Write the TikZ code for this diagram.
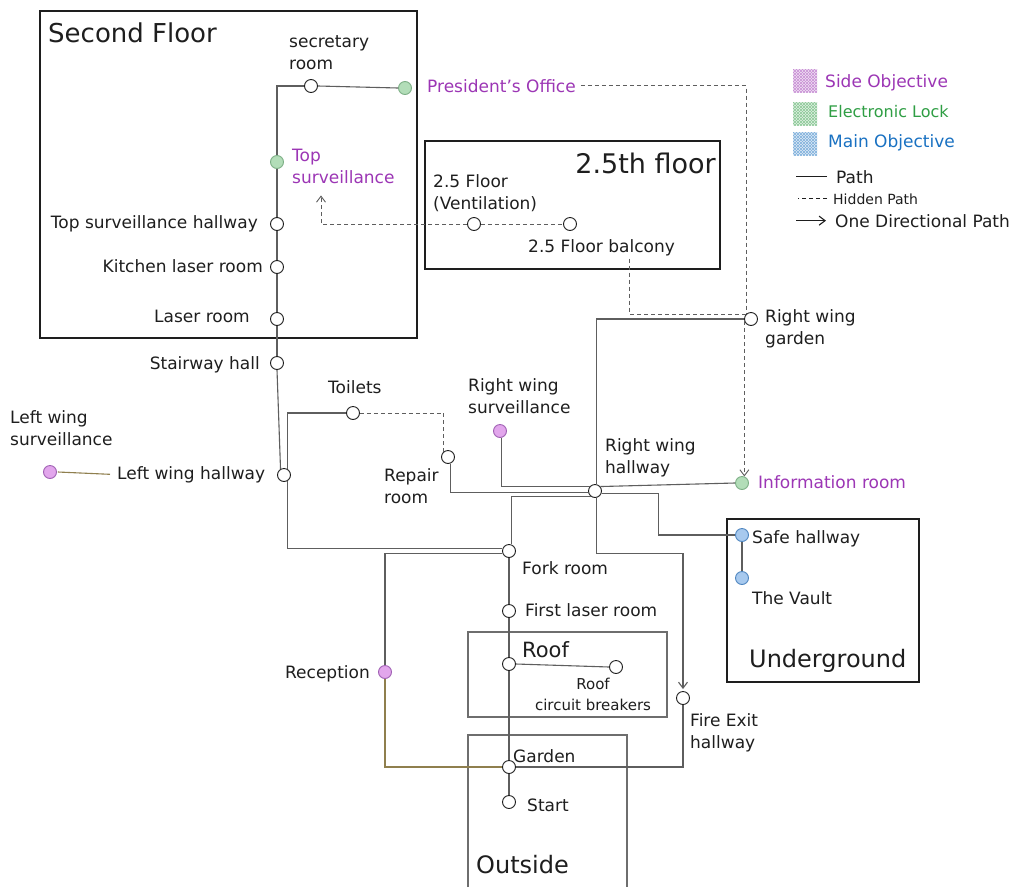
\documentclass[tikz,border=0pt]{standalone}
\usepackage{fontspec}
\setmainfont{DejaVu Sans}
\usetikzlibrary{arrows.meta,calc,patterns}

% palette
\definecolor{ink}{HTML}{1E1E1E}
\definecolor{wire}{HTML}{5E5E5E}
\definecolor{olivewire}{HTML}{8F7F4E}
\definecolor{boxgray}{HTML}{6E6E6E}
\definecolor{sidetxt}{HTML}{9C36B5}
\definecolor{locktxt}{HTML}{2F9E44}
\definecolor{maintxt}{HTML}{1971C2}
\definecolor{sidefill}{HTML}{E2A6EC}
\definecolor{lockfill}{HTML}{B2DDB8}
\definecolor{mainfill}{HTML}{A7C9EE}
\definecolor{sideedge}{HTML}{A061B4}
\definecolor{lockedge}{HTML}{7DAF86}
\definecolor{mainedge}{HTML}{4F86C0}

\newcommand{\mapLabelFont}{\fontsize{17}{22}\selectfont}
\newcommand{\mapSmallFont}{\fontsize{15}{21}\selectfont}
\newcommand{\mapRoofFont}{\fontsize{21}{25}\selectfont}

\begin{document}
\begin{tikzpicture}[
  x=1pt, y=-1pt,
  room/.style={circle, draw=ink, fill=white, line width=0.9pt, minimum size=13pt, inner sep=0pt},
  side/.style={room, draw=sideedge, fill=sidefill},
  lock/.style={room, draw=lockedge, fill=lockfill},
  goal/.style={room, draw=mainedge, fill=mainfill},
  lbl/.style={inner sep=0pt, font=\mapLabelFont, text=ink, align=left},
  ttl/.style={inner sep=0pt, text=ink},
  floorbox/.style={draw=ink, line width=1.8pt},
  zonebox/.style={draw=boxgray, line width=1.8pt},
  link/.style={draw=wire, line width=1.1pt},
  wildpath/.style={draw=olivewire, line width=1.1pt},
  hidden/.style={draw=wire, line width=0.9pt, dash pattern=on 4pt off 3pt},
  oneway/.style={-{Straight Barb[length=6pt,width=9pt]}},
]
\fill[white] (0,0) rectangle (1026,887);
\useasboundingbox (0,0) rectangle (1026,887);

% ---------- floor frames ----------
\draw[floorbox] (40,11) rectangle (417,338);
\draw[floorbox] (425,141) rectangle (720,269);
\draw[floorbox] (727,519) rectangle (919,682);
\draw[zonebox] (468,632) rectangle (667,717);
\draw[zonebox] (468,887) -- (468,735) -- (627,735) -- (627,887);

\node[ttl, anchor=base west, font=\fontsize{26}{30}\selectfont] (t2) at (48,42) {Second Floor};
\node[ttl, anchor=base east, font=\fontsize{27}{30}\selectfont] (t25) at (716,173) {2.5th floor};
\node[ttl, anchor=base west, font=\fontsize{24}{30}\selectfont] (tug) at (749,667) {Underground};
\node[ttl, anchor=base west, font=\fontsize{24}{30}\selectfont] (tout) at (476,873) {Outside};
\node[ttl, anchor=base west, font=\mapRoofFont] (troof) at (522,657) {Roof};

% ---------- rooms ----------
\node[room] (sec) at (311,86) {};
\node[lock] (pres) at (405,88) {};
\node[lock] (tsv) at (277,162) {};
\node[room] (tsh) at (277,224) {};
\node[room] (klr) at (277,267) {};
\node[room] (lsr) at (277,319) {};
\node[room] (sth) at (277,363) {};
\node[room] (lwh) at (284,475) {};
\node[side] (lws) at (50,472) {};
\node[room] (toi) at (353,413) {};
\node[room] (rep) at (448,457) {};
\node[side] (rws) at (500,431) {};
\node[room] (rwh) at (595,491) {};
\node[lock] (inf) at (742,483) {};
\node[room] (rwg) at (751,319) {};
\node[room] (vent) at (474,224) {};
\node[room] (balc) at (570,224) {};
\node[goal] (safe) at (742,535) {};
\node[goal] (vault) at (742,578) {};
\node[room] (fork) at (509,551) {};
\node[room] (flr) at (509,611) {};
\node[room] (roof) at (509,664) {};
\node[room] (rcb) at (616,667) {};
\node[side] (rec) at (385,672) {};
\node[room] (fex) at (683,698) {};
\node[room] (gar) at (509,767) {};
\node[room] (start) at (509,802) {};

% ---------- room names (multi-line names sit on their last baseline) ----------
\node[lbl, anchor=base west] (seclbl) at (289,69) {secretary\\room};
\node[lbl, anchor=base west, text=sidetxt] (preslbl) at (427,92) {President's Office};
\node[lbl, anchor=base west, text=sidetxt] (tsvlbl) at (292,183) {Top\\surveillance};
\node[lbl, anchor=base east] (tshlbl) at (258,228) {Top surveillance hallway};
\node[lbl, anchor=base east] (klrlbl) at (263,272) {Kitchen laser room};
\node[lbl, anchor=base east] (lsrlbl) at (250,322) {Laser room};
\node[lbl, anchor=base east] (sthlbl) at (260,369) {Stairway hall};
\node[lbl, anchor=base west] (lwhlbl) at (117,479) {Left wing hallway};
\node[lbl, anchor=base west] (lwslbl) at (10,445) {Left wing\\surveillance};
\node[lbl, anchor=base west] (toilbl) at (328,393) {Toilets};
\node[lbl, anchor=base west] (replbl) at (384,503) {Repair\\room};
\node[lbl, anchor=base west] (rwslbl) at (468,413) {Right wing\\surveillance};
\node[lbl, anchor=base west] (rwhlbl) at (605,473) {Right wing\\hallway};
\node[lbl, anchor=base west, text=sidetxt] (inflbl) at (758,488) {Information room};
\node[lbl, anchor=base west] (rwglbl) at (765,344) {Right wing\\garden};
\node[lbl, anchor=base west] (ventlbl) at (433,209) {2.5 Floor\\(Ventilation)};
\node[lbl, anchor=base west] (balclbl) at (528,252) {2.5 Floor balcony};
\node[lbl, anchor=base west] (safelbl) at (752,543) {Safe hallway};
\node[lbl, anchor=base west] (vaultlbl) at (752,604) {The Vault};
\node[lbl, anchor=base west] (forklbl) at (522,574) {Fork room};
\node[lbl, anchor=base west] (flrlbl) at (525,616) {First laser room};
\node[lbl, anchor=base, align=center, font=\mapSmallFont] (rcblbl) at (593,710) {Roof\\circuit breakers};
\node[lbl, anchor=base east] (reclbl) at (370,678) {Reception};
\node[lbl, anchor=base west] (fexlbl) at (690,748) {Fire Exit\\hallway};
\node[lbl, anchor=base west] (garlbl) at (513,762) {Garden};
\node[lbl, anchor=base west] (startlbl) at (527,811) {Start};

% ---------- paths ----------
\draw[link] (sec.east) -- (pres.west);
\draw[link] (sec.west) -| (tsv.north);
\draw[link] (tsv) -- (tsh);
\draw[link] (tsh) -- (klr);
\draw[link] (klr) -- (lsr);
\draw[link] (lsr) -- (sth);
\draw[link] (sth.south) -- (lwh.120);
\draw[link] (toi.west) -| (lwh.60);
\draw[link] (lwh.300) |- (fork.160);
\draw[wildpath] ([xshift=1pt]lws.east) -- ([xshift=-7pt]lwhlbl.west);
\draw[link] (rep.290) |- (rwh.190);
\draw[link] (rws.280) |- (rwh.140);
\draw[link] (rwh.40) -- (inf.west);
\draw[link] (rwh.80) |- (rwg.west);
\draw[link] (rwh.340) -- ++(57,0) |- (safe.west);
\draw[link] (rwh.235) -| (fork.70);
\draw[link, oneway] (rwh.280) -- ++(0,56) -| ([yshift=2pt]fex.north);
\draw[link] (safe) -- (vault);
\draw[link] (fork) -- (flr);
\draw[link] (fork.200) -| (rec.north);
\draw[wildpath] (rec.south) |- (gar.west);
\draw[link] (flr) -- (roof);
\draw[link] (roof) -- (gar);
\draw[link] (roof.east) -- (rcb.west);
\draw[link] (gar.east) -| (fex.south);
\draw[link] (gar) -- (start);

% ---------- hidden paths ----------
\draw[hidden] (toi.east) -| (rep.130);
\draw[hidden] (vent.east) -- (balc.west);
\draw[hidden, oneway] (vent.west) -| ($(tsvlbl.south west)+(29,12)$);
\draw[hidden] ([xshift=5pt]preslbl.east) -| (rwg.135);
\draw[hidden] ([xshift=28pt,yshift=-3pt]balclbl.south) |- (rwg.135);
\draw[hidden, oneway] (inf.70 |- rwg.200) -- (inf.70);

% ---------- key ----------
\foreach \yy/\cc in {69/sidetxt, 102/locktxt, 132/maintxt} {
  \fill[\cc!15] (793,\yy) rectangle ++(24,23);
  \fill[pattern=north east lines, pattern color=\cc!55] (793,\yy) rectangle ++(24,23);
  \fill[pattern=north west lines, pattern color=\cc!55] (793,\yy) rectangle ++(24,23);
}
\node[lbl, anchor=base west, text=sidetxt] (keyside) at (825,87) {Side Objective};
\node[lbl, anchor=base west, text=locktxt, font=\fontsize{16}{20}\selectfont] (keylock) at (828,117) {Electronic Lock};
\node[lbl, anchor=base west, text=maintxt] (keymain) at (828,147) {Main Objective};
\node[lbl, anchor=base west] (keypath) at (836,183) {Path};
\node[lbl, anchor=base west, font=\fontsize{14}{18}\selectfont] (keyhidden) at (833,204) {Hidden Path};
\node[lbl, anchor=base west] (keyone) at (835,227) {One Directional Path};
\draw[draw=ink, line width=1.1pt] ([xshift=-9pt]keypath.west) -- ++(-31,0);
\draw[hidden, draw=ink] ([xshift=-6pt]keyhidden.west) -- ++(-29,0);
\draw[draw=ink, line width=1.1pt, oneway] ([xshift=-39pt]keyone.west) -- ([xshift=-9pt]keyone.west);
\end{tikzpicture}
\end{document}
